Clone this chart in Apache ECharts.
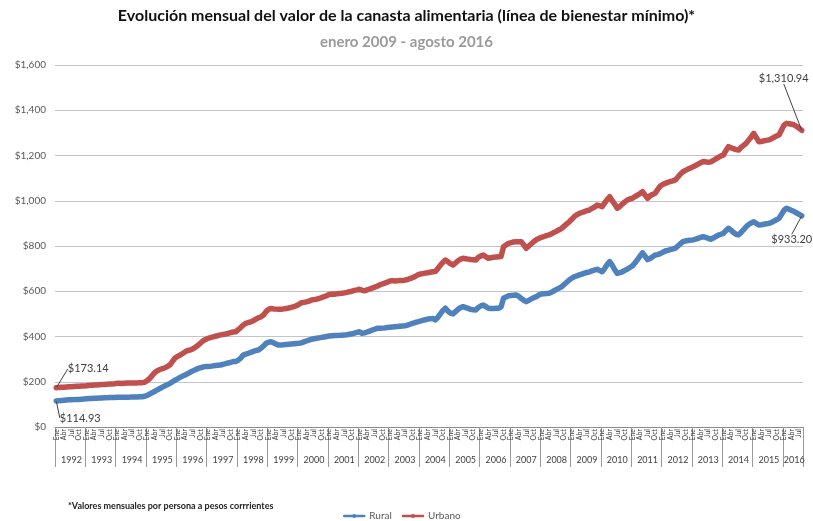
<!DOCTYPE html>
<html><head><meta charset="utf-8">
<script src="https://cdn.jsdelivr.net/npm/echarts@6/dist/echarts.min.js"></script>
<style>html,body{margin:0;padding:0;background:#fff}#c{width:813px;height:521px}</style>
</head><body><div id="c"></div>
<script>
const monthNames = ['Ene','Feb','Mar','Abr','May','Jun','Jul','Ago','Sep','Oct','Nov','Dic'];
const years = [1992,1993,1994,1995,1996,1997,1998,1999,2000,2001,2002,2003,2004,2005,2006,2007,2008,2009,2010,2011,2012,2013,2014,2015,2016];
const monthsInLastYear = 8;

const urbano = [
/*1992*/ 173.14,175,176,176,177,178,178,179,180,180,181,181,
/*1993*/ 182,184,185,186,186,187,188,188,189,190,190,191,
/*1994*/ 193,193,192,193,194,194,195,195,195,196,196,198,
/*1995*/ 205,215,228,240,249,254,258,262,267,275,290,305,
/*1996*/ 312,318,325,332,338,340,345,352,360,370,380,386,
/*1997*/ 392,395,398,401,404,407,409,411,414,417,420,421,
/*1998*/ 430,440,451,458,462,465,470,477,483,487,495,510,
/*1999*/ 520,524,522,521,520,520,522,524,526,529,532,536,
/*2000*/ 542,549,551,553,556,561,563,565,568,572,576,580,
/*2001*/ 586,588,587,589,590,591,593,595,598,600,604,606,
/*2002*/ 609,604,602,606,610,614,618,622,628,632,636,640,
/*2003*/ 645,647,645,646,648,647,649,652,656,660,665,672,
/*2004*/ 676,678,680,682,684,686,687,700,715,728,738,730,
/*2005*/ 722,716,725,735,742,746,744,742,740,739,738,750,
/*2006*/ 756,760,752,746,748,750,751,752,753,797,805,812,
/*2007*/ 815,818,819,819,819,805,790,800,810,820,828,834,
/*2008*/ 838,842,846,849,854,860,866,872,878,888,898,907,
/*2009*/ 918,930,938,944,948,952,956,959,966,972,981,978,
/*2010*/ 974,990,1005,1018,1000,985,967,974,985,995,1003,1008,
/*2011*/ 1011,1018,1025,1032,1040,1025,1011,1022,1028,1033,1050,1065,
/*2012*/ 1072,1077,1081,1085,1088,1092,1105,1118,1128,1134,1140,1145,
/*2013*/ 1150,1156,1162,1168,1173,1172,1170,1172,1178,1185,1192,1198,
/*2014*/ 1202,1222,1239,1234,1230,1226,1224,1236,1245,1254,1268,1282,
/*2015*/ 1298,1280,1261,1262,1265,1267,1269,1274,1280,1286,1291,1312,
/*2016*/ 1335,1342,1340,1338,1335,1328,1320,1310.94
];

const rural = [
/*1992*/ 114.93,116,117,118,119,120,120,121,122,122,123,124,
/*1993*/ 125,126,126,127,127,128,128,129,129,130,130,130,
/*1994*/ 131,131,131,132,132,132,133,133,133,134,134,136,
/*1995*/ 140,146,152,158,164,170,176,182,187,193,200,207,
/*1996*/ 213,219,225,230,236,242,248,253,258,262,265,267,
/*1997*/ 267,268,270,272,273,274,277,280,283,286,289,290,
/*1998*/ 295,305,318,322,326,330,334,338,340,348,358,370,
/*1999*/ 375,377,372,366,362,362,364,365,366,367,368,369,
/*2000*/ 370,372,376,380,384,388,390,392,394,396,398,400,
/*2001*/ 402,403,404,404,405,406,407,408,410,412,415,418,
/*2002*/ 421,414,416,420,424,428,432,436,436,437,438,440,
/*2003*/ 441,442,443,444,445,446,447,450,454,458,462,465,
/*2004*/ 468,471,474,477,478,480,473,485,500,515,525,512,
/*2005*/ 503,500,510,520,528,532,528,524,520,518,517,528,
/*2006*/ 535,539,532,525,524,524,525,525,530,569,575,580,
/*2007*/ 581,582,583,578,568,560,554,560,566,572,576,584,
/*2008*/ 588,589,590,591,596,602,608,614,620,630,640,650,
/*2009*/ 658,664,668,672,676,680,683,686,690,694,697,692,
/*2010*/ 686,700,718,731,715,695,679,682,686,692,698,705,
/*2011*/ 712,725,740,755,770,755,740,745,752,760,762,766,
/*2012*/ 772,778,781,784,787,790,800,810,819,822,824,826,
/*2013*/ 827,830,834,838,841,838,834,830,835,842,848,852,
/*2014*/ 856,868,878,870,860,852,849,860,872,885,895,902,
/*2015*/ 907,900,893,894,896,898,900,904,910,916,922,940,
/*2016*/ 958,967,962,957,952,946,940,933.20
];

const seriesNames = ['Rural','Urbano'];
const titleText = 'Evolución mensual del valor de la canasta alimentaria (línea de bienestar mínimo)*';
const subtitleText = 'enero 2009 - agosto 2016';
const footnoteText = '*Valores mensuales por persona a pesos corrrientes';

// categories
const monthCats = [], yearCats = [];
years.forEach((y, yi) => {
  const n = (yi === years.length - 1) ? monthsInLastYear : 12;
  for (let m = 0; m < n; m++) { monthCats.push(monthNames[m]); yearCats.push(String(y)); }
});
const N = monthCats.length;
const lastIdx = N - 1;
const lastYearStart = (years.length - 1) * 12;
const lastYearMid = lastYearStart + Math.floor(monthsInLastYear / 2);

const fmtMoney = v => '$' + Number(v).toLocaleString('en-US', {minimumFractionDigits: 2, maximumFractionDigits: 2});
const fmtAxis = v => '$' + Number(v).toLocaleString('en-US');

function toData(arr) {
  return arr.map((v, i) => (i === 0 || i === lastIdx)
    ? {value: v, symbol: 'circle', symbolSize: 1, label: {show: true}, labelLine: {show: true}}
    : v);
}

const labelOffsets = {
  '0-0': {dx: 24, dy: 17},
  '1-0': {dx: 32, dy: -19},
  '0-last': {dx: -10, dy: 24},
  '1-last': {dx: -18, dy: -52}
};

const font = 'Lato, "Open Sans", sans-serif';
const colors = ['#4F81BD', '#C0504D'];

const chart = echarts.init(document.getElementById('c'));
chart.setOption({
  animation: false,
  color: colors,
  textStyle: {fontFamily: font},
  title: [
    {text: titleText, left: 'center', top: 8, padding: 0,
     textStyle: {fontFamily: font, fontSize: 16, fontWeight: 'bold', color: '#111'}},
    {text: subtitleText, left: 'center', top: 35, padding: 0,
     textStyle: {fontFamily: font, fontSize: 15, fontWeight: 'bold', color: '#9a9a9a'}},
    {text: footnoteText, left: 68, top: 502, padding: 0,
     textStyle: {fontFamily: font, fontSize: 9, fontWeight: 'bold', color: '#222'}}
  ],
  legend: {
    data: seriesNames, left: 343, top: 511, itemWidth: 20, itemHeight: 5, itemGap: 10, padding: 0,
    textStyle: {fontFamily: font, fontSize: 10, color: '#595959'},
    lineStyle: {width: 2.5}
  },
  grid: {left: 55, right: 10, top: 65, bottom: 94, containLabel: false},
  xAxis: [
    {type: 'category', data: monthCats, boundaryGap: true,
     axisLine: {show: true, lineStyle: {color: '#8c8c8c', width: 1}},
     axisTick: {show: true, length: 40, interval: (i) => i % 12 === 0, lineStyle: {color: '#9a9a9a'}},
     axisLabel: {interval: 2, rotate: 90, fontSize: 7, margin: 2, color: '#404040', fontFamily: font}
    },
    {type: 'category', data: yearCats, boundaryGap: true, position: 'bottom', offset: 0,
     axisLine: {show: false}, axisTick: {show: false},
     axisLabel: {interval: (i) => (i < lastYearStart ? i % 12 === 6 : i === lastYearMid),
       fontSize: 9, margin: 29, color: '#404040', fontFamily: font}
    }
  ],
  yAxis: {
    type: 'value', min: 0, max: 1600, interval: 200,
    axisLine: {show: false}, axisTick: {show: false},
    axisLabel: {formatter: fmtAxis, fontSize: 10, color: '#595959', margin: 9, fontFamily: font},
    splitLine: {lineStyle: {color: '#c4c4c4', width: 1}}
  },
  series: [rural, urbano].map((arr, si) => ({
    name: seriesNames[si], type: 'line', data: toData(arr),
    symbol: 'none', showSymbol: true, showAllSymbol: true,
    lineStyle: {width: 5.5, color: colors[si], cap: 'round', join: 'round'},
    itemStyle: {color: colors[si]},
    label: {show: false, position: 'inside', formatter: p => fmtMoney(p.value),
      fontSize: 11, color: '#404040', fontFamily: font},
    labelLine: {show: true, lineStyle: {color: '#404040', width: 1}},
    labelLayout: (p) => {
      const key = si + '-' + (p.dataIndex === 0 ? '0' : 'last');
      return labelOffsets[key];
    },
    z: si === 1 ? 3 : 2
  }))
});
</script>
</body></html>
